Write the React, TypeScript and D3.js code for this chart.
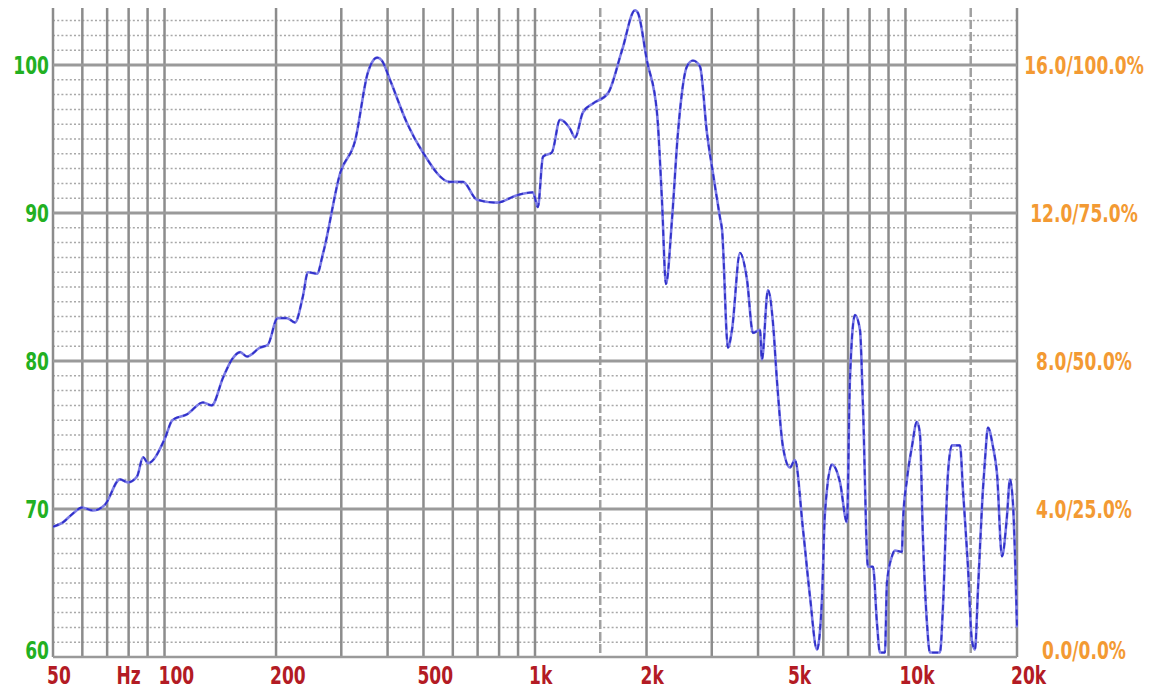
import React, { useEffect, useRef } from 'react';
import * as d3 from 'd3';

// frequency response
const freqHz = [
  50, 53.2, 56.6, 59.9, 64.1, 69.1, 75.8, 79.7, 84.3, 87.5, 90.3, 100, 105, 115, 127, 134, 144, 152, 160, 167,
  181, 190, 202, 214, 225, 236, 244, 258, 268, 298, 327, 354, 375, 386, 406, 451, 498, 590, 639, 697,
  790, 894, 987, 1018, 1051, 1111, 1168, 1243, 1282, 1347, 1434, 1574, 1718, 1862, 1897, 2005, 2134, 2201, 2257, 2342,
  2431, 2571, 2669, 2788, 2912, 3022, 3157, 3197, 3318, 3402, 3575, 3734, 3876, 4047, 4098, 4253, 4388, 4498, 4670, 4877,
  5031, 5290, 5523, 5768, 5950, 6062, 6332, 6657, 6950, 7080, 7305, 7537, 7679, 7921, 8172, 8375, 8533, 8801, 8912, 9193,
  9365, 9781, 9843, 10092, 10408, 10739, 10940, 11144, 11428, 11642, 12391, 12624, 13022, 13350, 14032, 14293, 14745, 15115, 15400, 15690,
  16185, 16390, 16700, 17225, 17660, 18215, 18790, 19140, 19500, 20000,
];
const splDb = [
  68.8, 69.1, 69.7, 70.1, 69.9, 70.3, 72.0, 71.8, 72.2, 73.5, 73.1, 74.7, 76.0, 76.4, 77.2, 77.0, 78.9, 80.1, 80.6, 80.3,
  80.9, 81.1, 82.9, 82.9, 82.6, 84.3, 86.0, 85.9, 87.3, 92.7, 94.9, 99.5, 100.5, 100.3, 99.0, 96.1, 94.1, 92.1, 92.1, 90.9,
  90.7, 91.2, 91.4, 90.4, 93.8, 94.1, 96.3, 95.7, 95.1, 96.8, 97.4, 98.1, 101.0, 103.7, 103.5, 100.3, 96.8, 90.9, 85.2, 89.5,
  95.4, 99.9, 100.3, 99.9, 95.4, 92.7, 89.7, 88.9, 80.9, 82.1, 87.3, 85.5, 81.9, 82.1, 80.1, 84.8, 82.6, 78.7, 74.2, 72.8,
  73.3, 68.6, 64.1, 60.5, 63.9, 69.7, 73.0, 71.8, 69.1, 78.7, 83.1, 82.1, 76.9, 66.1, 66.1, 62.3, 60.3, 60.3, 65.0, 66.8,
  67.2, 67.1, 69.1, 72.0, 74.2, 75.9, 75.1, 68.1, 62.3, 60.3, 60.3, 63.4, 72.4, 74.3, 74.3, 71.3, 66.1, 61.1, 60.5, 64.5,
  71.3, 73.3, 75.5, 74.2, 72.4, 66.8, 69.5, 72.0, 70.4, 62.0,
];

// grid lines
const majorFreqs = [50, 60, 70, 80, 90, 100, 200, 300, 400, 500, 600, 700, 800, 900, 1000,
  2000, 3000, 4000, 5000, 6000, 7000, 8000, 9000, 10000, 20000];
const halfFreqs = [1500, 15000];
const dbMajor = [60, 70, 80, 90, 100];
const dbLabels = ['60', '70', '80', '90', '100'];
const rightLabels = ['0.0/0.0%', '4.0/25.0%', '8.0/50.0%', '12.0/75.0%', '16.0/100.0%'];
const freqTicks = [50, 100, 200, 500, 1000, 2000, 5000, 10000, 20000];
const freqLabels = ['50', '100', '200', '500', '1k', '2k', '5k', '10k', '20k'];

const FONT = "'Liberation Sans Narrow', 'Arial Narrow', 'DejaVu Sans Condensed', sans-serif";
const SQUEEZE = 0.76; // no narrow font here, so squash the text horizontally

export default function App() {
  const svgRef = useRef<SVGSVGElement>(null);

  useEffect(() => {
    const svg = d3.select(svgRef.current);
    svg.selectAll('*').remove();

    const width = 1166;
    const height = 692;
    const left = 53, right = 1017, bottom = 657;

    const x = d3.scaleLog().domain([50, 20000]).range([left, right]);
    const y = d3.scaleLinear().domain([60, 104]).range([bottom, bottom - 44 * 14.8]);
    const top = 8;

    svg.attr('width', width).attr('height', height);
    svg.append('rect').attr('width', width).attr('height', height).attr('fill', '#fff');

    // 1 dB dotted lines
    const minor = d3.range(61, 104).filter(d => d % 10 !== 0);
    svg.append('g').selectAll('line').data(minor).enter().append('line')
      .attr('x1', left).attr('x2', right)
      .attr('y1', d => y(d)).attr('y2', d => y(d))
      .attr('stroke', '#a8a8a8').attr('stroke-width', 1.5)
      .attr('stroke-dasharray', '2,2.2');

    // vertical lines
    svg.append('g').selectAll('line').data(majorFreqs).enter().append('line')
      .attr('x1', d => x(d)).attr('x2', d => x(d))
      .attr('y1', top).attr('y2', bottom)
      .attr('stroke', '#8c8c8c').attr('stroke-width', 2.5);
    svg.append('g').selectAll('line').data(halfFreqs).enter().append('line')
      .attr('x1', d => x(d)).attr('x2', d => x(d))
      .attr('y1', top).attr('y2', bottom)
      .attr('stroke', '#a0a0a0').attr('stroke-width', 2.5)
      .attr('stroke-dasharray', '9,3');

    // 10 dB lines
    svg.append('g').selectAll('line').data(dbMajor).enter().append('line')
      .attr('x1', left).attr('x2', right)
      .attr('y1', d => y(d)).attr('y2', d => y(d))
      .attr('stroke', '#9a9a9a').attr('stroke-width', d => d === 60 ? 2.5 : 3);

    // response curve
    svg.append('clipPath').attr('id', 'plot-clip').append('rect')
      .attr('x', left).attr('y', 0).attr('width', right - left + 1).attr('height', bottom);

    const pts = freqHz.map((f, i) => [f, splDb[i]] as [number, number]);
    const line = d3.line<[number, number]>()
      .x(d => x(d[0]))
      .y(d => y(d[1]))
      .curve(d3.curveMonotoneX);

    svg.append('path')
      .attr('clip-path', 'url(#plot-clip)')
      .attr('d', line(pts))
      .attr('fill', 'none')
      .attr('stroke', '#7b7be6')
      .attr('stroke-width', 2.6);
    svg.append('path')
      .attr('clip-path', 'url(#plot-clip)')
      .attr('d', line(pts))
      .attr('fill', 'none')
      .attr('stroke', '#3030c8')
      .attr('stroke-width', 1.8)
      .attr('stroke-dasharray', '6,4');

    const label = (g: d3.Selection<SVGGElement, unknown, null, undefined>, tx: number, ty: number,
      txt: string, anchor: string, fill: string) => {
      g.append('text')
        .attr('transform', `translate(${tx},${ty}) scale(${SQUEEZE},1)`)
        .attr('dy', '0.36em')
        .attr('text-anchor', anchor)
        .attr('fill', fill)
        .style('font-family', FONT)
        .style('font-weight', 'bold')
        .style('font-size', '25px')
        .text(txt);
    };

    const labels = svg.append('g');
    // left dB labels and right percent labels
    dbMajor.forEach((d, i) => {
      const ly = d === 60 ? 650 : y(d);
      label(labels, 49, ly, dbLabels[i], 'end', '#22b022');
      label(labels, 1084, ly, rightLabels[i], 'middle', '#f39a33');
    });

    // frequency labels
    freqTicks.forEach((d, i) => {
      label(labels, x(d) - 6, 675, freqLabels[i], 'start', '#b31b24');
    });
    label(labels, x(80), 675, 'Hz', 'middle', '#b31b24');
  }, []);

  return (
    <div style={{ position: 'absolute', left: 0, top: 0 }}>
      <svg ref={svgRef} style={{ display: 'block' }}></svg>
    </div>
  );
}
